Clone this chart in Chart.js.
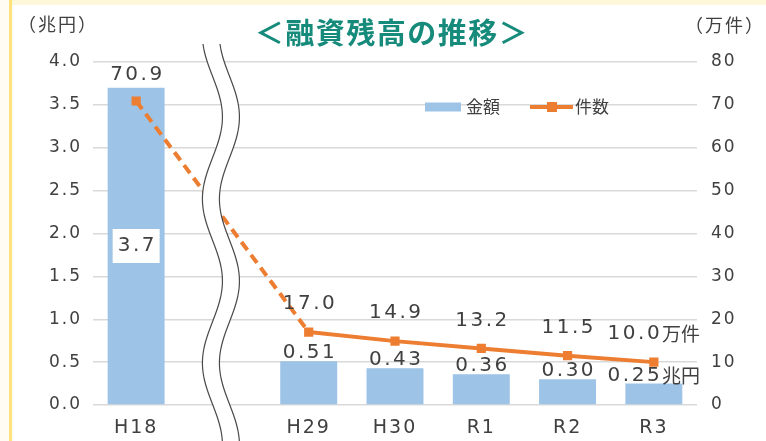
<!DOCTYPE html>
<html><head><meta charset="utf-8">
<script src="https://cdn.jsdelivr.net/npm/chart.js@4"></script>
<style>
html,body{margin:0;padding:0;background:#fff;}
#wrap{position:relative;width:766px;height:441px;overflow:hidden;background:#fff;}
#topband{position:absolute;left:0;top:0;width:766px;height:5px;background:#FFF7DA;}
#leftband{position:absolute;left:0;top:0;width:9px;height:441px;background:#FFFDF3;}
#yline{position:absolute;left:9px;top:0;width:3px;height:441px;background:#FFE27A;}
canvas{position:absolute;left:0;top:0;}
</style></head><body>
<div id="wrap"><div id="topband"></div><div id="leftband"></div><div id="yline"></div>
<canvas id="c" width="766" height="441"></canvas></div>
<script>
// ---- data ----
const categories = ['H18', '', 'H29', 'H30', 'R1', 'R2', 'R3'];
const amounts = [3.7, null, 0.51, 0.43, 0.36, 0.30, 0.25];      // 兆円
const counts = [70.9, null, 17.0, 14.9, 13.2, 11.5, 10.0];     // 万件
const amountLabels = ['3.7', null, '0.51', '0.43', '0.36', '0.30', '0.25'];
const countLabels = ['70.9', null, '17.0', '14.9', '13.2', '11.5', '10.0'];
const amountUnit = '兆円';
const countUnit = '万件';
const leftTicks = [0, 0.5, 1.0, 1.5, 2.0, 2.5, 3.0, 3.5, 4.0];
const rightTicks = [0, 10, 20, 30, 40, 50, 60, 70, 80];
const seriesNames = ['金額', '件数'];
const chartTitle = '＜融資残高の推移＞';
const leftAxisTitle = '（兆円）';
const rightAxisTitle = '（万件）';

// ---- style ----
const barColor = '#9DC3E6';
const lineColor = '#ED7D31';
const textColor = '#404040';
const NUM = "'DejaVu Sans', 'Noto Sans CJK JP', sans-serif";
const JP = "'Noto Sans CJK JP', sans-serif";

function drawParts(ctx, parts, cx, cy) {
  let total = 0; const ws = [];
  parts.forEach(p => { ctx.font = p[1]; ctx.letterSpacing = p[2] + 'px'; const w = ctx.measureText(p[0]).width; ws.push(w); total += w; });
  total -= parts[parts.length - 1][2];
  let x = cx - total / 2;
  ctx.textAlign = 'left'; ctx.textBaseline = 'middle'; ctx.fillStyle = textColor;
  parts.forEach((p, i) => { ctx.font = p[1]; ctx.letterSpacing = p[2] + 'px'; ctx.fillText(p[0], x, cy); x += ws[i]; });
}

const decoPlugin = {
  id: 'deco',
  beforeDraw(chart) { chart.ctx.letterSpacing = '2px'; },
  afterDatasetsDraw(chart) {
    const { ctx, scales: { x } } = chart;
    const cx = x.getPixelForValue(1);
    const y0 = 44, y1 = 441;
    const f = (y, c) => c - 10 * Math.cos(2 * Math.PI * (y - 35) / 164);
    const cl = cx - 10, cr = cx + 7;
    ctx.save();
    ctx.beginPath();
    for (let y = y0; y <= y1; y++) { const px = f(y, cl); y === y0 ? ctx.moveTo(px, y) : ctx.lineTo(px, y); }
    for (let y = y1; y >= y0; y--) ctx.lineTo(f(y, cr), y);
    ctx.closePath(); ctx.fillStyle = '#fff'; ctx.fill();
    ctx.strokeStyle = '#4a4a4a'; ctx.lineWidth = 1.2;
    [cl, cr].forEach(c => {
      ctx.beginPath();
      for (let y = y0; y <= y1; y++) { const px = f(y, c); y === y0 ? ctx.moveTo(px, y) : ctx.lineTo(px, y); }
      ctx.stroke();
    });
    ctx.restore();
  },
  afterDraw(chart) {
    const ctx = chart.ctx;
    const bars = chart.getDatasetMeta(0).data;
    const pts = chart.getDatasetMeta(1).data;
    const last = categories.length - 1;
    const nf = '20px ' + NUM, sp = 2.5;
    ctx.save();
    categories.forEach((c, i) => {
      if (amounts[i] == null) return;
      const b = bars[i];
      if (i === 0) {
        drawParts(ctx, [[countLabels[i], nf, sp]], b.x, b.y - 13);
        const my = (b.y + b.base) / 2;
        ctx.fillStyle = '#fff';
        ctx.fillRect(b.x - 23.5, my - 17, 47, 34);
        drawParts(ctx, [[amountLabels[i], nf, sp]], b.x, my);
      } else {
        const p = pts[i];
        const cp = [[countLabels[i], nf, sp]];
        const ap = [[amountLabels[i], nf, sp]];
        if (i === last) { cp.push([countUnit, '19px ' + JP, 0]); ap.push([amountUnit, '19px ' + JP, 0]); }
        drawParts(ctx, cp, p.x, p.y - 28);
        drawParts(ctx, ap, b.x, b.y - 8);
      }
    });
    // title
    ctx.letterSpacing = '1.5px';
    ctx.font = 'bold 29px ' + JP; ctx.fillStyle = '#168B7B';
    ctx.textAlign = 'center'; ctx.textBaseline = 'middle';
    ctx.fillText(chartTitle, 392, 33);
    // axis titles
    ctx.font = '18px ' + JP; ctx.fillStyle = textColor; ctx.letterSpacing = '2px';
    ctx.fillText(leftAxisTitle, 58, 24);
    ctx.fillText(rightAxisTitle, 725, 25);
    // legend
    ctx.letterSpacing = '0px';
    const ly = 107;
    ctx.fillStyle = barColor; ctx.fillRect(425, ly - 4.5, 36, 9);
    ctx.font = '17px ' + JP; ctx.fillStyle = textColor; ctx.textAlign = 'left';
    ctx.fillText(seriesNames[0], 466, ly);
    ctx.strokeStyle = lineColor; ctx.lineWidth = 4;
    ctx.beginPath(); ctx.moveTo(530, ly); ctx.lineTo(573, ly); ctx.stroke();
    ctx.fillStyle = lineColor; ctx.fillRect(547, ly - 5, 10, 10);
    ctx.fillStyle = textColor;
    ctx.fillText(seriesNames[1], 575, ly);
    ctx.restore();
  }
};

new Chart(document.getElementById('c'), {
  data: {
    labels: categories,
    datasets: [
      { type: 'bar', label: seriesNames[0], data: amounts, backgroundColor: barColor,
        barPercentage: 0.66, categoryPercentage: 1, yAxisID: 'y', order: 1 },
      { type: 'line', label: seriesNames[1], data: counts, borderColor: lineColor, backgroundColor: lineColor,
        borderWidth: 4, pointStyle: 'rect', pointRadius: 6.5, pointBorderWidth: 0, pointHoverRadius: 6.5,
        spanGaps: true, yAxisID: 'y1', order: 0, tension: 0,
        segment: { borderDash: ctx => ctx.p0DataIndex < 2 ? [10, 6] : undefined } }
    ]
  },
  options: {
    responsive: false, animation: false, devicePixelRatio: 1,
    layout: { padding: { top: 62, left: 0, right: 0, bottom: 0 } },
    plugins: { legend: { display: false }, tooltip: { enabled: false }, title: { display: false } },
    scales: {
      x: {
        grid: { display: false, drawTicks: false }, border: { display: false },
        ticks: { color: textColor, font: { family: NUM, size: 19 }, padding: 12, maxRotation: 0, autoSkip: false },
        afterFit: s => { s.height = 36; }
      },
      y: {
        position: 'left', min: 0, max: 4,
        afterBuildTicks: s => { s.ticks = leftTicks.map(v => ({ value: v })); },
        grid: { color: '#D9D9D9', lineWidth: 1.5, drawTicks: false }, border: { display: false },
        ticks: { color: textColor, font: { family: NUM, size: 17 }, padding: 11, callback: v => v.toFixed(1) },
        afterFit: s => { s.width = 93; }
      },
      y1: {
        position: 'right', min: 0, max: 80,
        afterBuildTicks: s => { s.ticks = rightTicks.map(v => ({ value: v })); },
        grid: { display: false, drawTicks: false }, border: { display: false },
        ticks: { color: textColor, font: { family: NUM, size: 17 }, padding: 14, callback: v => String(v) },
        afterFit: s => { s.width = 69; }
      }
    }
  },
  plugins: [decoPlugin]
});
</script>
</body></html>
